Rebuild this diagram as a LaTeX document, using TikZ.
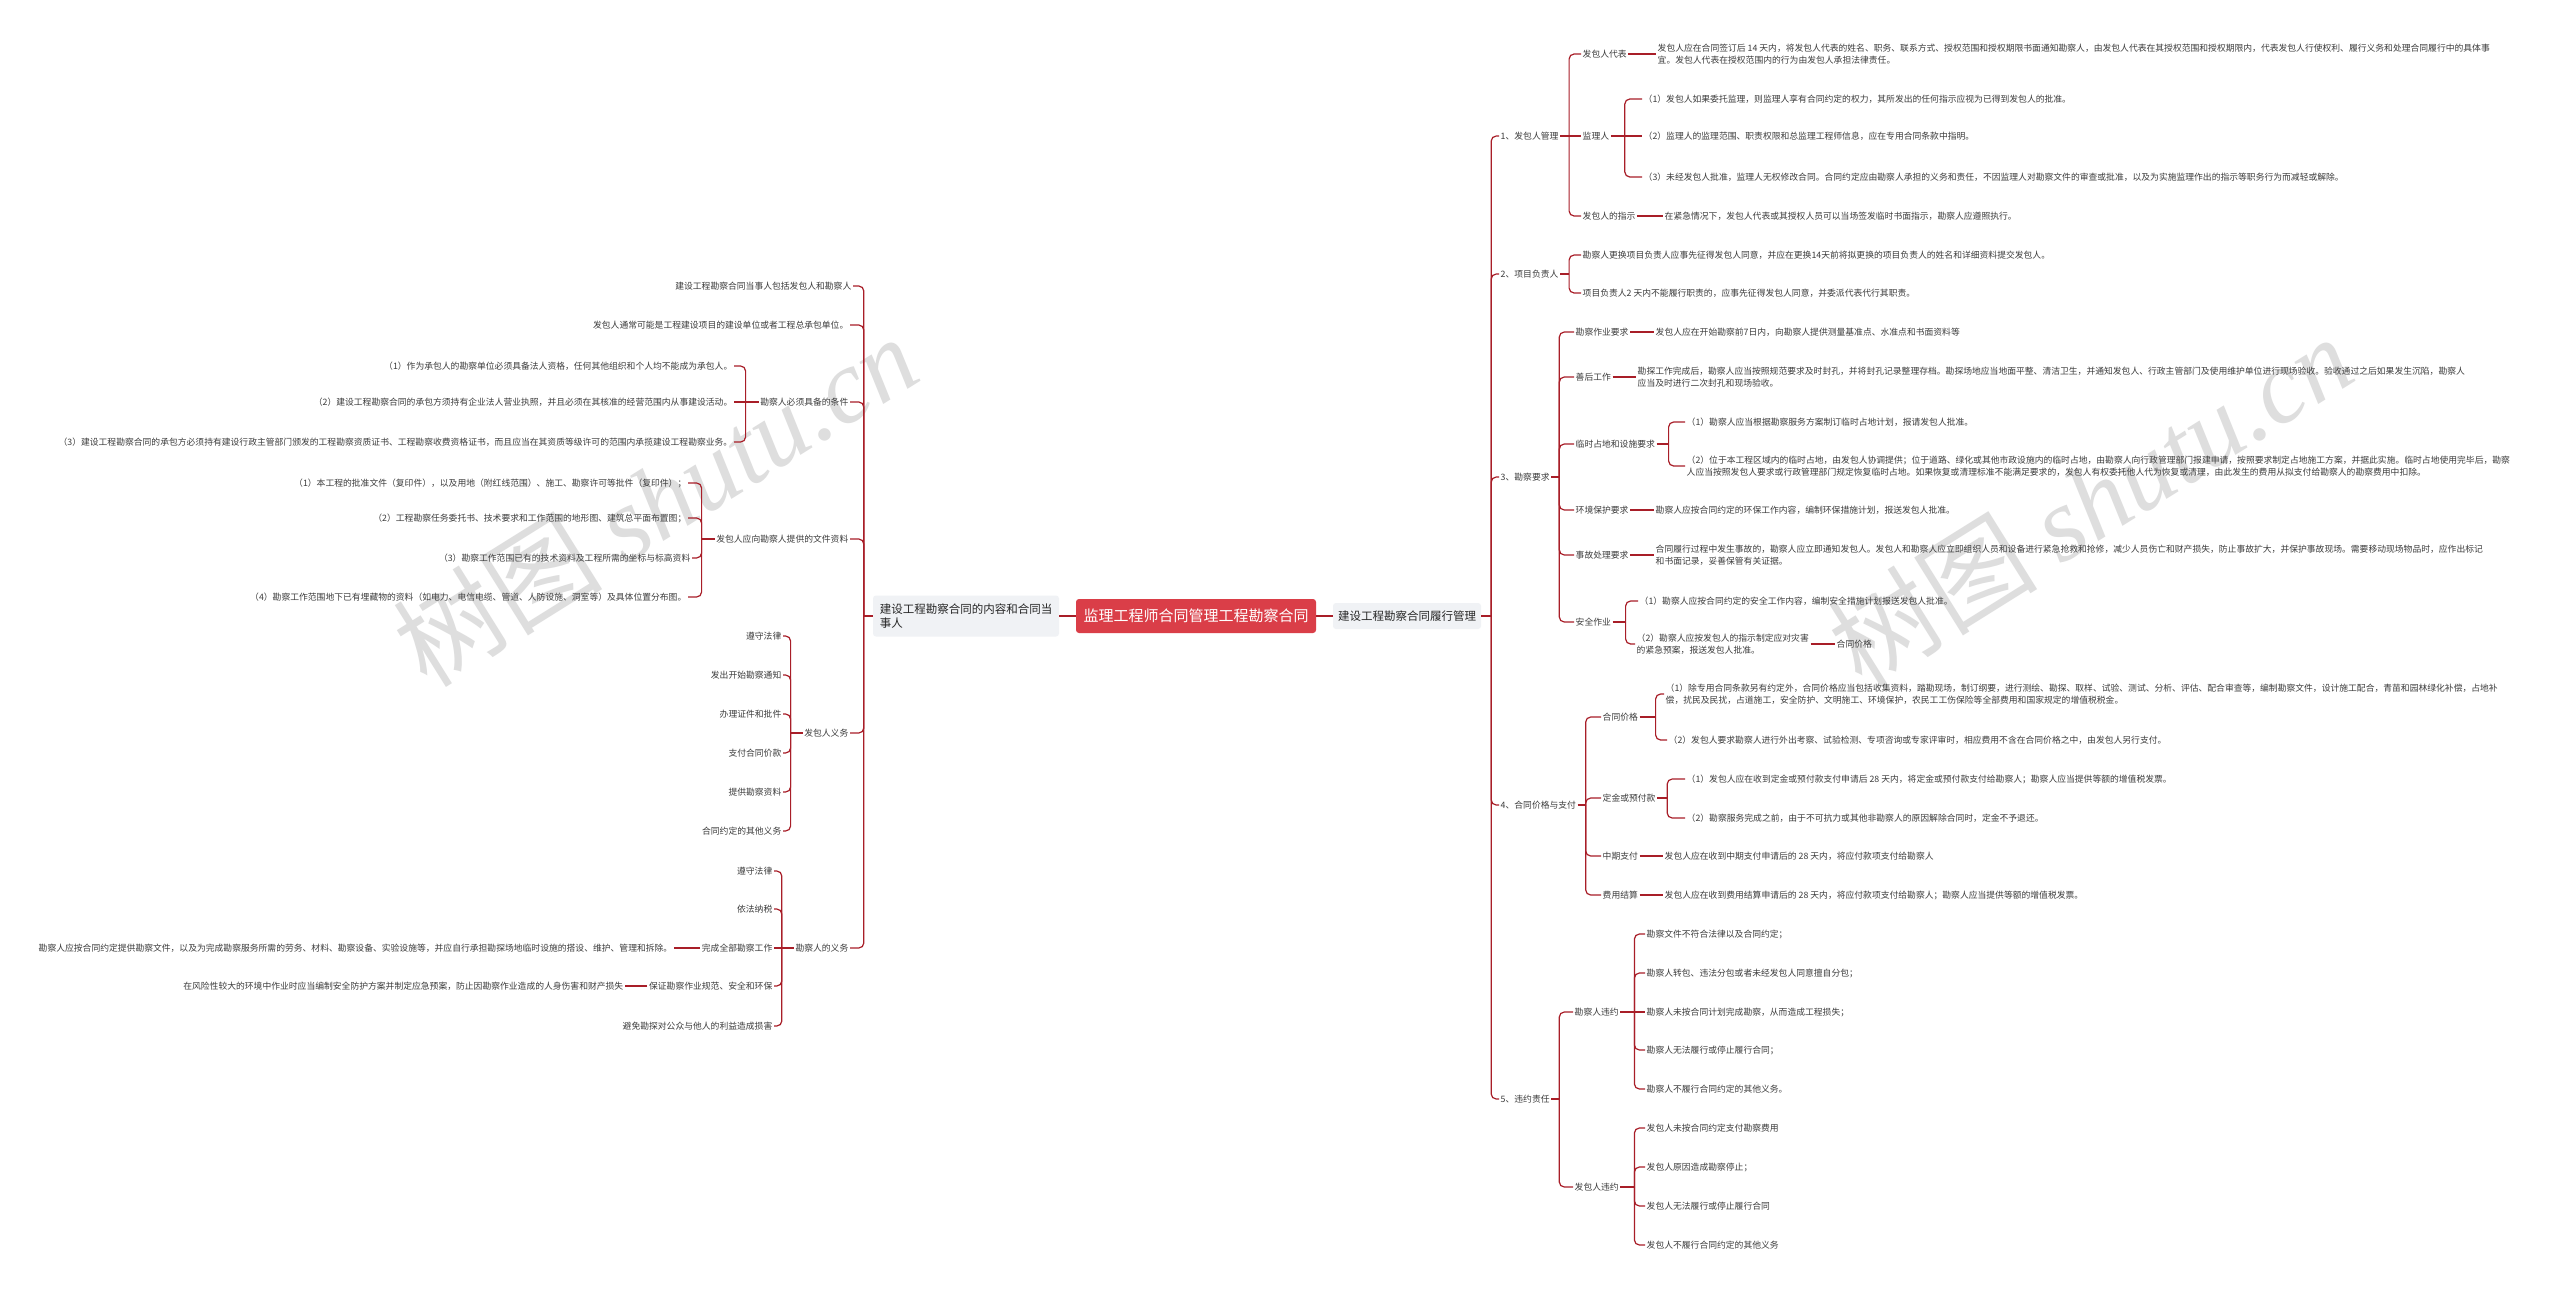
\documentclass[tikz,border=0pt]{standalone}
\usepackage{fontspec}
\setmainfont{Noto Sans CJK SC}
\newfontfamily\wmserif{Liberation Serif}
\definecolor{linkred}{RGB}{168,30,40}
\definecolor{rootred}{RGB}{218,62,72}
\definecolor{topicgray}{RGB}{240,242,245}
\definecolor{leaftext}{RGB}{60,60,60}
\definecolor{wmgray}{RGB}{222,222,222}

\begin{document}
\begin{tikzpicture}[x=1pt, y=-1pt,
  every node/.style={font=\fontsize{8.8}{12.5}\selectfont, text=leaftext, inner sep=1.5pt},
  link/.style={draw=linkred, line width=1.2pt, rounded corners=5pt},
  rootbox/.style={fill=rootred, text=white, rounded corners=3pt, minimum width=240pt,
    minimum height=34pt, inner sep=0pt, font=\fontsize{15}{18}\selectfont},
  topicbox/.style={fill=topicgray, rounded corners=3pt, align=left, inner xsep=5pt,
    inner ysep=4pt, text=black!85, font=\fontsize{11.5}{14}\selectfont},
  lnode/.style={anchor=east},
  rnode/.style={anchor=west, align=left},
  wmark/.style={rotate=32, text=wmgray, font=\fontsize{105}{105}\selectfont}]
  \useasboundingbox (0,0) rectangle (2560,1293);
  \fill[white] (0,0) rectangle (2560,1293);

  % watermark
  \node[wmark] (wmL) at (655,500) {树图 {\wmserif\itshape shutu.cn}};
  \node[wmark] (wmR) at (2090,500) {树图 {\wmserif\itshape shutu.cn}};

  % root and main topics
  \node[rootbox] (root) at (1196,616) {监理工程师合同管理工程勘察合同};
  \node[topicbox, minimum width=186pt, minimum height=41pt] (L) at (966,616)
    {建设工程勘察合同的内容和合同当\\事人};
  \node[topicbox, minimum width=145pt, minimum height=26pt] (R) at (1407,616)
    {建设工程勘察合同履行管理};
  \draw[link] (root.west) -- (L.east);
  \draw[link] (root.east) -- (R.west);

  % left half
  \draw[link] (L.west) -- ++(-9,0) coordinate (Lt);
  \node[lnode] (party) at (853,286) {建设工程勘察合同当事人包括发包人和勘察人};
  \node[lnode] (owner) at (850,325) {发包人通常可能是工程建设项目的建设单位或者工程总承包单位。};
  \node[lnode] (cond) at (850,402) {勘察人必须具备的条件};
  \node[lnode] (docs) at (850,539) {发包人应向勘察人提供的文件资料};
  \node[lnode] (oduty) at (850,733) {发包人义务};
  \node[lnode] (sduty) at (850,948) {勘察人的义务};
  \foreach \n in {party,owner,cond,docs,oduty,sduty}
    \draw[link] (Lt) |- (\n.east);

  \node[lnode] (cond1) at (734,366) {（1）作为承包人的勘察单位必须具备法人资格，任何其他组织和个人均不能成为承包人。};
  \node[lnode] (cond2) at (734,402) {（2）建设工程勘察合同的承包方须持有企业法人营业执照，并且必须在其核准的经营范围内从事建设活动。};
  \node[lnode] (cond3) at (734,442) {（3）建设工程勘察合同的承包方必须持有建设行政主管部门颁发的工程勘察资质证书、工程勘察收费资格证书，而且应当在其资质等级许可的范围内承揽建设工程勘察业务。};
  \draw[link] (cond.west) -- ++(-13,0) coordinate (condt);
  \draw[link] (condt) |- (cond1.east);
  \draw[link] (condt) -- (cond2.east);
  \draw[link] (condt) |- (cond3.east);

  \node[lnode] (docs1) at (688,483) {（1）本工程的批准文件（复印件），以及用地（附红线范围）、施工、勘察许可等批件（复印件）；};
  \node[lnode] (docs2) at (688,518) {（2）工程勘察任务委托书、技术要求和工作范围的地形图、建筑总平面布置图；};
  \node[lnode] (docs3) at (692,558) {（3）勘察工作范围已有的技术资料及工程所需的坐标与标高资料};
  \node[lnode] (docs4) at (688,597) {（4）勘察工作范围地下已有埋藏物的资料（如电力、电信电缆、管道、人防设施、洞室等）及具体位置分布图。};
  \draw[link] (docs.west) -- ++(-13,0) coordinate (docst);
  \foreach \n in {docs1,docs2,docs3,docs4}
    \draw[link] (docst) |- (\n.east);

  \node[lnode] (od1) at (783,636) {遵守法律};
  \node[lnode] (od2) at (783,675) {发出开始勘察通知};
  \node[lnode] (od3) at (783,714) {办理证件和批件};
  \node[lnode] (od4) at (783,753) {支付合同价款};
  \node[lnode] (od5) at (783,792) {提供勘察资料};
  \node[lnode] (od6) at (783,831) {合同约定的其他义务};
  \draw[link] (oduty.west) -- ++(-12,0) coordinate (odt);
  \foreach \n in {od1,od2,od3,od4,od5,od6}
    \draw[link] (odt) |- (\n.east);

  \node[lnode] (sd1) at (774,871) {遵守法律};
  \node[lnode] (sd2) at (774,909) {依法纳税};
  \node[lnode] (sd3) at (774,948) {完成全部勘察工作};
  \node[lnode] (sd4) at (774,986) {保证勘察作业规范、安全和环保};
  \node[lnode] (sd5) at (774,1026) {避免勘探对公众与他人的利益造成损害};
  \draw[link] (sduty.west) -- ++(-12,0) coordinate (sdt);
  \foreach \n in {sd1,sd2,sd4,sd5}
    \draw[link] (sdt) |- (\n.east);
  \draw[link] (sdt) -- (sd3.east);
  \node[lnode] (sd3a) at (674,948) {勘察人应按合同约定提供勘察文件，以及为完成勘察服务所需的劳务、材料、勘察设备、实验设施等，并应自行承担勘探场地临时设施的搭设、维护、管理和拆除。};
  \node[lnode] (sd4a) at (625,986) {在风险性较大的环境中作业时应当编制安全防护方案并制定应急预案，防止因勘察作业造成的人身伤害和财产损失};
  \draw[link] (sd3.west) -- (sd3a.east);
  \draw[link] (sd4.west) -- (sd4a.east);

  % right half
  \draw[link] (R.east) -- ++(10,0) coordinate (Rt);
  \node[rnode] (emp) at (1499,136) {1、发包人管理};
  \node[rnode] (lead) at (1499,274) {2、项目负责人};
  \node[rnode] (req) at (1499,477) {3、勘察要求};
  \node[rnode] (pay) at (1499,805) {4、合同价格与支付};
  \node[rnode] (brk) at (1499,1099) {5、违约责任};
  \foreach \n in {emp,lead,req,pay,brk}
    \draw[link] (Rt) |- (\n.west);

  % 1
  \node[rnode] (rep) at (1581,54) {发包人代表};
  \node[rnode] (sup) at (1581,136) {监理人};
  \node[rnode] (ins) at (1581,216) {发包人的指示};
  \draw[link] (emp.east) -- ++(9,0) coordinate (empt);
  \draw[link] (empt) |- (rep.west);
  \draw[link] (empt) -- (sup.west);
  \draw[link] (empt) |- (ins.west);
  \node[rnode] (repa) at (1656,54) {发包人应在合同签订后 14 天内，将发包人代表的姓名、职务、联系方式、授权范围和授权期限书面通知勘察人，由发包人代表在其授权范围和授权期限内，代表发包人行使权利、履行义务和处理合同履行中的具体事\\宜。发包人代表在授权范围内的行为由发包人承担法律责任。};
  \draw[link] (rep.east) -- (repa.west);
  \node[rnode] (sup1) at (1642,99) {（1）发包人如果委托监理，则监理人享有合同约定的权力，其所发出的任何指示应视为已得到发包人的批准。};
  \node[rnode] (sup2) at (1642,136) {（2）监理人的监理范围、职责权限和总监理工程师信息，应在专用合同条款中指明。};
  \node[rnode] (sup3) at (1642,177) {（3）未经发包人批准，监理人无权修改合同。合同约定应由勘察人承担的义务和责任，不因监理人对勘察文件的审查或批准，以及为实施监理作出的指示等职务行为而减轻或解除。};
  \draw[link] (sup.east) -- ++(14,0) coordinate (supt);
  \draw[link] (supt) |- (sup1.west);
  \draw[link] (supt) -- (sup2.west);
  \draw[link] (supt) |- (sup3.west);
  \node[rnode] (insa) at (1663,216) {在紧急情况下，发包人代表或其授权人员可以当场签发临时书面指示，勘察人应遵照执行。};
  \draw[link] (ins.east) -- (insa.west);

  % 2
  \node[rnode] (lead1) at (1581,255) {勘察人更换项目负责人应事先征得发包人同意，并应在更换14天前将拟更换的项目负责人的姓名和详细资料提交发包人。};
  \node[rnode] (lead2) at (1581,293) {项目负责人2 天内不能履行职责的，应事先征得发包人同意，并委派代表代行其职责。};
  \draw[link] (lead.east) -- ++(9,0) coordinate (leadt);
  \draw[link] (leadt) |- (lead1.west);
  \draw[link] (leadt) |- (lead2.west);

  % 3
  \node[rnode] (work) at (1574,332) {勘察作业要求};
  \node[rnode] (after) at (1574,377) {善后工作};
  \node[rnode] (site) at (1574,444) {临时占地和设施要求};
  \node[rnode] (env) at (1574,510) {环境保护要求};
  \node[rnode] (acc) at (1574,555) {事故处理要求};
  \node[rnode] (safe) at (1574,622) {安全作业};
  \draw[link] (req.east) -- ++(8,0) coordinate (reqt);
  \foreach \n in {work,after,site,env,acc,safe}
    \draw[link] (reqt) |- (\n.west);
  \node[rnode] (worka) at (1654,332) {发包人应在开始勘察前7日内，向勘察人提供测量基准点、水准点和书面资料等};
  \node[rnode] (aftera) at (1636,377) {勘探工作完成后，勘察人应当按照规范要求及时封孔，并将封孔记录整理存档。勘探场地应当地面平整、清洁卫生，并通知发包人、行政主管部门及使用维护单位进行现场验收。验收通过之后如果发生沉陷，勘察人\\应当及时进行二次封孔和现场验收。};
  \node[rnode] (enva) at (1654,510) {勘察人应按合同约定的环保工作内容，编制环保措施计划，报送发包人批准。};
  \node[rnode] (acca) at (1654,555) {合同履行过程中发生事故的，勘察人应立即通知发包人。发包人和勘察人应立即组织人员和设备进行紧急抢救和抢修，减少人员伤亡和财产损失，防止事故扩大，并保护事故现场。需要移动现场物品时，应作出标记\\和书面记录，妥善保管有关证据。};
  \foreach \n in {work,after,env,acc}
    \draw[link] (\n.east) -- (\n a.west);
  \node[rnode] (site1) at (1685,422) {（1）勘察人应当根据勘察服务方案制订临时占地计划，报请发包人批准。};
  \node[rnode] (site2) at (1685,466) {（2）位于本工程区域内的临时占地，由发包人协调提供；位于道路、绿化或其他市政设施内的临时占地，由勘察人向行政管理部门报建申请，按照要求制定占地施工方案，并据此实施。临时占地使用完毕后，勘察\\人应当按照发包人要求或行政管理部门规定恢复临时占地。如果恢复或清理标准不能满足要求的，发包人有权委托他人代为恢复或清理，由此发生的费用从拟支付给勘察人的勘察费用中扣除。};
  \draw[link] (site.east) -- ++(12,0) coordinate (sitet);
  \draw[link] (sitet) |- (site1.west);
  \draw[link] (sitet) |- (site2.west);
  \node[rnode] (safe1) at (1638,601) {（1）勘察人应按合同约定的安全工作内容，编制安全措施计划报送发包人批准。};
  \node[rnode] (safe2) at (1635,644) {（2）勘察人应按发包人的指示制定应对灾害\\的紧急预案，报送发包人批准。};
  \draw[link] (safe.east) -- ++(13,0) coordinate (safet);
  \draw[link] (safet) |- (safe1.west);
  \draw[link] (safet) |- (safe2.west);
  \node[rnode] (safe2a) at (1835,644) {合同价格};
  \draw[link] (safe2.east) -- (safe2a.west);

  % 4
  \node[rnode] (price) at (1601,717) {合同价格};
  \node[rnode] (dep) at (1601,798) {定金或预付款};
  \node[rnode] (mid) at (1601,856) {中期支付};
  \node[rnode] (fin) at (1601,895) {费用结算};
  \draw[link] (pay.east) -- ++(8,0) coordinate (payt);
  \foreach \n in {price,dep,mid,fin}
    \draw[link] (payt) |- (\n.west);
  \node[rnode] (price1) at (1664,694) {（1）除专用合同条款另有约定外，合同价格应当包括收集资料，踏勘现场，制订纲要，进行测绘、勘探、取样、试验、测试、分析、评估、配合审查等，编制勘察文件，设计施工配合，青苗和园林绿化补偿，占地补\\偿，扰民及民扰，占道施工，安全防护、文明施工、环境保护，农民工工伤保险等全部费用和国家规定的增值税税金。};
  \node[rnode] (price2) at (1667,740) {（2）发包人要求勘察人进行外出考察、试验检测、专项咨询或专家评审时，相应费用不含在合同价格之中，由发包人另行支付。};
  \draw[link] (price.east) -- ++(16,0) coordinate (pricet);
  \draw[link] (pricet) |- (price1.west);
  \draw[link] (pricet) |- (price2.west);
  \node[rnode] (dep1) at (1685,779) {（1）发包人应在收到定金或预付款支付申请后 28 天内，将定金或预付款支付给勘察人；勘察人应当提供等额的增值税发票。};
  \node[rnode] (dep2) at (1685,818) {（2）勘察服务完成之前，由于不可抗力或其他非勘察人的原因解除合同时，定金不予退还。};
  \draw[link] (dep.east) -- ++(10,0) coordinate (dept);
  \draw[link] (dept) |- (dep1.west);
  \draw[link] (dept) |- (dep2.west);
  \node[rnode] (mida) at (1663,856) {发包人应在收到中期支付申请后的 28 天内，将应付款项支付给勘察人};
  \node[rnode] (fina) at (1663,895) {发包人应在收到费用结算申请后的 28 天内，将应付款项支付给勘察人；勘察人应当提供等额的增值税发票。};
  \draw[link] (mid.east) -- (mida.west);
  \draw[link] (fin.east) -- (fina.west);

  % 5
  \node[rnode] (sbrk) at (1573,1012) {勘察人违约};
  \node[rnode] (obrk) at (1573,1187) {发包人违约};
  \draw[link] (brk.east) -- ++(8,0) coordinate (brkt);
  \draw[link] (brkt) |- (sbrk.west);
  \draw[link] (brkt) |- (obrk.west);
  \node[rnode] (sb1) at (1645,934) {勘察文件不符合法律以及合同约定；};
  \node[rnode] (sb2) at (1645,973) {勘察人转包、违法分包或者未经发包人同意擅自分包；};
  \node[rnode] (sb3) at (1645,1012) {勘察人未按合同计划完成勘察，从而造成工程损失；};
  \node[rnode] (sb4) at (1645,1050) {勘察人无法履行或停止履行合同；};
  \node[rnode] (sb5) at (1645,1089) {勘察人不履行合同约定的其他义务。};
  \draw[link] (sbrk.east) -- ++(14,0) coordinate (sbt);
  \foreach \n in {sb1,sb2,sb4,sb5}
    \draw[link] (sbt) |- (\n.west);
  \draw[link] (sbt) -- (sb3.west);
  \node[rnode] (ob1) at (1645,1128) {发包人未按合同约定支付勘察费用};
  \node[rnode] (ob2) at (1645,1167) {发包人原因造成勘察停止；};
  \node[rnode] (ob3) at (1645,1206) {发包人无法履行或停止履行合同};
  \node[rnode] (ob4) at (1645,1245) {发包人不履行合同约定的其他义务};
  \draw[link] (obrk.east) -- ++(14,0) coordinate (obt);
  \foreach \n in {ob1,ob2,ob3,ob4}
    \draw[link] (obt) |- (\n.west);
\end{tikzpicture}
\end{document}
